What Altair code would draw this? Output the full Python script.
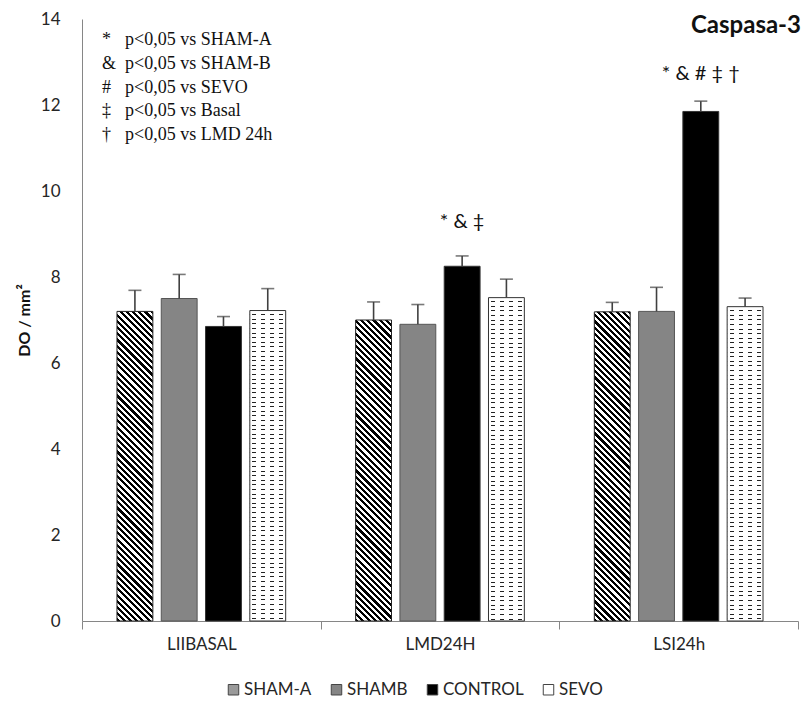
import math
import altair as alt
import pandas as pd

# ---------------- data ----------------
groups = ["LIIBASAL", "LMD24H", "LSI24h"]
series = ["SHAM-A", "SHAMB", "CONTROL", "SEVO"]
sham_a = [7.20, 7.00, 7.19]
sham_a_err = [0.49, 0.42, 0.22]
shamb = [7.50, 6.90, 7.20]
shamb_err = [0.56, 0.46, 0.56]
control = [6.85, 8.25, 11.85]
control_err = [0.23, 0.24, 0.24]
sevo = [7.22, 7.52, 7.31]
sevo_err = [0.51, 0.43, 0.20]

sig_groups = ["LMD24H", "LSI24h"]
sig_texts = ["* & \u2021", "* & # \u2021 \u2020"]
sig_y = [9.14, 12.58]

note_symbols = ["*", "&", "#", "\u2021", "\u2020"]
note_texts = ["p<0,05 vs SHAM-A", "p<0,05 vs SHAM-B", "p<0,05 vs SEVO",
              "p<0,05 vs Basal", "p<0,05 vs LMD 24h"]
y_ticks = [0, 2, 4, 6, 8, 10, 12, 14]
title_text = "Caspasa-3"
y_title = "DO / mm\u00b2"

# ---------------- layout / style ----------------
W, H = 716, 602
Y_MAX = 14
PI, PO = 0.19, 0.79
band = W / len(groups)
step = band / (len(series) - PI + 2 * PO)
bar_w = step * (1 - PI)
EDGE = "#404040"
FONT = "Lato"

values = {"SHAM-A": (sham_a, sham_a_err), "SHAMB": (shamb, shamb_err),
          "CONTROL": (control, control_err), "SEVO": (sevo, sevo_err)}
rows = []
for s in series:
    vals, errs = values[s]
    for g, v, e in zip(groups, vals, errs):
        rows.append({"group": g, "series": s, "mean": v, "top": v + e})
df = pd.DataFrame(rows)


def px_height(v):
    return v / Y_MAX * H


def hatch(h, w=bar_w, period=4.4):
    r = h / w
    a = (1 + r) / (1 + r * r)
    L = (w + h) / math.sqrt(2)
    n = int(math.ceil(L / period))
    stops = []
    for k in range(n):
        o0 = round(k * period / L, 5)
        o1 = round(min((k + 0.5) * period / L, 1), 5)
        o2 = round(min((k + 1) * period / L, 1), 5)
        stops += [{"offset": o0, "color": "#000000"}, {"offset": o1, "color": "#000000"},
                  {"offset": o1, "color": "#ffffff"}, {"offset": o2, "color": "#ffffff"}]
    return {"gradient": "linear", "x1": 0, "y1": 1, "x2": a, "y2": 1 - a * r, "stops": stops}


def hlines(h, period=4.6, thick=1.0):
    n = int(math.ceil(h / period))
    stops = []
    for k in range(n):
        a0 = round(k * period / h, 5)
        a1 = round(min((k * period + period - thick) / h, 1), 5)
        a2 = round(min((k + 1) * period / h, 1), 5)
        stops += [{"offset": a0, "color": "#ffffff"}, {"offset": a1, "color": "#ffffff"},
                  {"offset": a1, "color": "#222222"}, {"offset": a2, "color": "#222222"}]
    return {"gradient": "linear", "x1": 0, "y1": 0, "x2": 0, "y2": 1, "stops": stops}


def dash_mask(n=4):
    stops = []
    clear = "rgba(255,255,255,0)"
    for k in range(n):
        p0, p1, p2, p3 = k / n, (k + 0.28) / n, (k + 0.72) / n, (k + 1) / n
        stops += [{"offset": p0, "color": "#ffffff"}, {"offset": p1, "color": "#ffffff"},
                  {"offset": p1, "color": clear}, {"offset": p2, "color": clear},
                  {"offset": p2, "color": "#ffffff"}, {"offset": p3, "color": "#ffffff"}]
    return {"gradient": "linear", "x1": 0, "y1": 0, "x2": 1, "y2": 0, "stops": stops}


xscale = alt.Scale(domain=groups, paddingInner=0, paddingOuter=0)
offscale = alt.Scale(domain=series, paddingInner=PI, paddingOuter=PO)
yscale = alt.Scale(domain=[0, Y_MAX], nice=False)
xaxis = alt.Axis(tickBand="extent", tickSize=8, labelPadding=7, labelAngle=0,
                 title=None)
yaxis = alt.Axis(values=y_ticks, ticks=False, labelPadding=22, title=y_title,
                 titleFontWeight="bold", titleFontSize=16, titlePadding=8,
                 titleFont=FONT, titleColor="#111111")


def xenc():
    return alt.X("group:N", scale=xscale, axis=xaxis, title=None)


def oenc():
    return alt.XOffset("series:N", scale=offscale)


def yenc(field):
    return alt.Y(field, scale=yscale, axis=yaxis, title=y_title)


base = alt.Chart(df).encode(x=xenc(), xOffset=oenc(), y=yenc("mean:Q"))

layers = []
for gi, g in enumerate(groups):
    for s in series:
        v = values[s][0][gi]
        h = px_height(v)
        flt = f"datum.group === '{g}' && datum.series === '{s}'"
        b = base.transform_filter(flt)
        if s == "SHAM-A":
            layers.append(b.mark_bar(fill=hatch(h), stroke="#222222", strokeWidth=1))
        elif s == "SHAMB":
            layers.append(b.mark_bar(fill="#858585", stroke="#555555", strokeWidth=1))
        elif s == "CONTROL":
            layers.append(b.mark_bar(fill="#000000", stroke="#333333", strokeWidth=1))
        else:
            layers.append(b.mark_bar(fill=hlines(h), strokeWidth=0))
            layers.append(b.mark_bar(fill=dash_mask(), stroke="#333333", strokeWidth=1))

err_rule = base.mark_rule(color=EDGE, strokeWidth=1.6).encode(y=yenc("mean:Q"), y2="top:Q")
err_cap = base.mark_tick(color=EDGE, thickness=1.6, size=13).encode(y=yenc("top:Q"))

legend_layer = base.mark_square(opacity=0, size=1).encode(
    color=alt.Color("series:N",
                    scale=alt.Scale(domain=series,
                                    range=["#9a9a9a", "#858585", "#000000", "#ffffff"]),
                    legend=alt.Legend(title=None, orient="none", direction="horizontal",
                                      legendX=143, legendY=662, symbolType="square",
                                      symbolSize=110, symbolOpacity=1,
                                      symbolStrokeColor="#444444", symbolStrokeWidth=1,
                                      labelFont=FONT, labelFontSize=17, labelColor="#262626",
                                      labelOffset=2, columnPadding=16, symbolOffset=0))
)

sig_df = pd.DataFrame({"group": sig_groups, "series": ["CONTROL"] * len(sig_groups),
                       "ypos": sig_y, "label": sig_texts})
sig_layer = alt.Chart(sig_df).mark_text(font=FONT, fontSize=20, color="#111111",
                                        baseline="alphabetic").encode(
    x=xenc(), xOffset=oenc(), y=yenc("ypos:Q"), text="label:N")

note_layers = []
for i, (sym, txt) in enumerate(zip(note_symbols, note_texts)):
    yb = 26 + i * 23.8
    note_layers.append(alt.Chart(pd.DataFrame({"t": [sym]})).mark_text(
        font="Liberation Serif", fontSize=18, align="left", baseline="alphabetic",
        color="#111111").encode(x=alt.value(20), y=alt.value(yb), text="t:N"))
    note_layers.append(alt.Chart(pd.DataFrame({"t": [txt]})).mark_text(
        font="Liberation Serif", fontSize=18, align="left", baseline="alphabetic",
        color="#111111").encode(x=alt.value(43), y=alt.value(yb), text="t:N"))

title_layer = alt.Chart(pd.DataFrame({"t": [title_text]})).mark_text(
    font=FONT, fontSize=24, fontWeight="bold", align="right", baseline="alphabetic",
    color="#111111").encode(x=alt.value(W + 3), y=alt.value(14), text="t:N")

chart = alt.layer(*layers, err_rule, err_cap, legend_layer, sig_layer, *note_layers,
                  title_layer).properties(
    width=W, height=H,
    padding={"left": 82, "top": 19, "right": 7, "bottom": 96},
    autosize=alt.AutoSizeParams(type="none"),
).configure_view(stroke=None).configure_axis(
    grid=False, domainColor="#868686", tickColor="#868686", labelFont=FONT,
    labelFontSize=17, labelColor="#262626")

chart.save("out.html", embed_options={"renderer": "svg", "actions": False})
